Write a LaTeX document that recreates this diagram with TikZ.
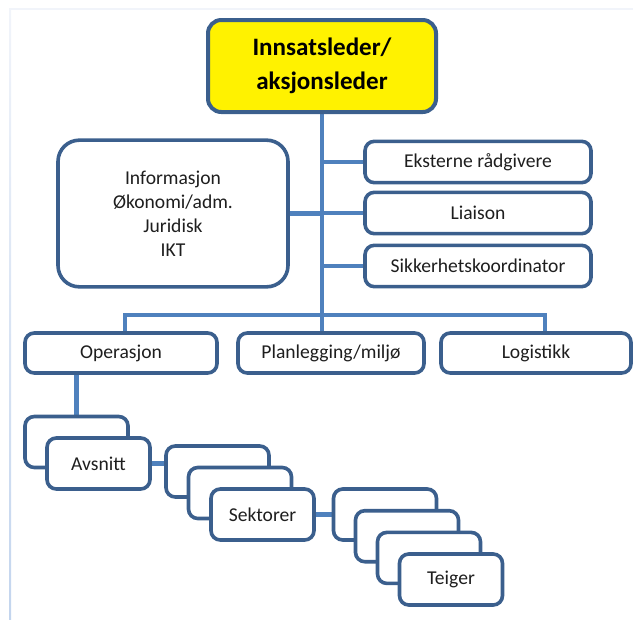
\documentclass[tikz,border=0pt]{standalone}
\usepackage{fontspec}
\setmainfont{Carlito}
\usetikzlibrary{backgrounds}
\definecolor{linkblue}{HTML}{4F81BD}
\definecolor{edgeblue}{HTML}{3B5F8D}
\definecolor{framelite}{HTML}{F1F4FA}
\definecolor{framedark}{HTML}{C3D5EE}
\definecolor{textgray}{HTML}{1E1E1E}
\begin{document}
\begin{tikzpicture}[x=0.75pt,y=-0.75pt,
  box/.style={draw=edgeblue,line width=2.7pt,fill=white,rounded corners=7pt,text=textgray,
    inner sep=0pt,align=center,font=\fontsize{14.7}{17}\selectfont},
  stackbox/.style={box,minimum width=77.25pt,minimum height=38.25pt},
  link/.style={draw=linkblue,line width=3.7pt}]
  \useasboundingbox (0,0) rectangle (633,619);
  \shade[top color=framelite,bottom color=framedark] (9,9) rectangle (11,619);
  \fill[framelite] (9,8) rectangle (633,10);

  \node[box,fill=yellow,text=black,line width=3pt,rounded corners=10pt,minimum width=171pt,
    minimum height=69pt,font=\bfseries\fontsize{18.8}{25.5}\selectfont] (leder) at (322,66) {Innsatsleder/\\aksjonsleder};
  \node[box,rounded corners=16pt,minimum width=172.5pt,minimum height=110pt,
    font=\fontsize{14.7}{18}\selectfont] (stab) at (173,213.5) {Informasjon\\Økonomi/adm.\\Juridisk\\IKT};
  \node[box,minimum width=169.5pt,minimum height=31pt] (ekstern) at (478,162) {Eksterne rådgivere};
  \node[box,minimum width=169.5pt,minimum height=31pt] (liaison) at (478,213) {Liaison};
  \node[box,minimum width=169.5pt,minimum height=31pt] (sikkerhet) at (478,266) {Sikkerhetskoordinator};

  \node[box,minimum width=144pt,minimum height=30pt] (operasjon) at (121,353) {Operasjon};
  \node[box,minimum width=139.5pt,minimum height=30pt] (planlegging) at (331,353) {Planlegging/miljø};
  \node[box,minimum width=142.5pt,minimum height=30pt] (logistikk) at (536,353) {Logistikk};

  \node[stackbox] (avsnitt0) at (76.5,442) {};
  \node[stackbox] (avsnitt) at (98.5,463.5) {Avsnitt};
  \foreach \i in {0,1}
    \node[stackbox] (sektor\i) at ({217.5+22.5*\i},{471.5+21.5*\i}) {};
  \node[stackbox] (sektorer) at (262.5,514.5) {Sektorer};
  \foreach \i in {0,1,2}
    \node[stackbox] (teig\i) at ({385+22*\i},{514.5+21.7*\i}) {};
  \node[stackbox] (teiger) at (451,579.5) {Teiger};

  \begin{scope}[on background layer]
    \coordinate (grenV) at (125,315);
    \coordinate (grenH) at (545,315);
    \draw[link] (leder.south) -- (planlegging.north -| leder.south);
    \draw[link] (operasjon.north -| grenV) -- (grenV) -- (grenH) -- (logistikk.north -| grenH);
    \draw[link] (ekstern.west) -- (ekstern.west -| leder.south);
    \draw[link] (liaison.west) -- (liaison.west -| leder.south);
    \draw[link] (sikkerhet.west) -- (sikkerhet.west -| leder.south);
    \draw[link] (stab.east) -- (stab.east -| leder.south);
    \draw[link] (operasjon.south -| avsnitt0.north) -- (avsnitt0.north);
    \draw[link] (avsnitt.east) -- (avsnitt.east -| sektor0.west);
    \draw[link] (sektorer.east) -- (sektorer.east -| teig0.west);
  \end{scope}
\end{tikzpicture}
\end{document}
